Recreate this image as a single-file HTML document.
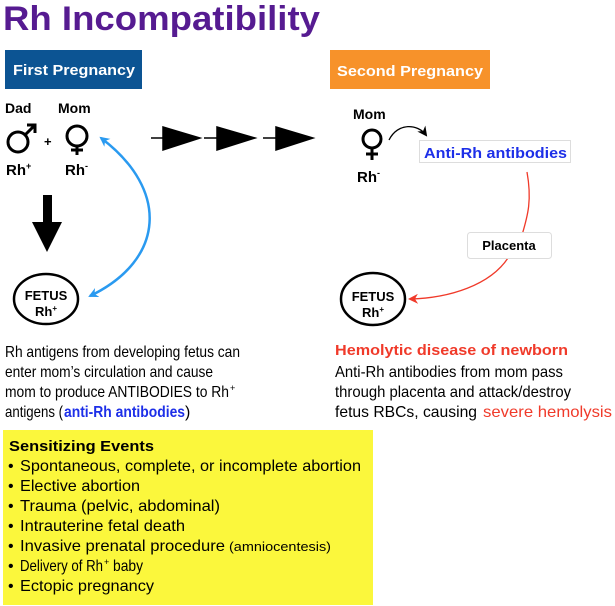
<!DOCTYPE html>
<html><head><meta charset="utf-8"><style>
html,body{margin:0;padding:0;background:#fff;}
svg{display:block;font-family:"Liberation Sans",Arial,sans-serif;}
</style></head><body>
<svg width="615" height="606" viewBox="0 0 615 606" xmlns="http://www.w3.org/2000/svg">
<defs>
<marker id="bh" markerWidth="10" markerHeight="10" refX="8" refY="5" orient="auto" markerUnits="userSpaceOnUse"><path d="M0,0 L10,5 L0,10 L3,5 Z" fill="#2a9af0"/></marker>
<marker id="bt" markerWidth="10" markerHeight="10" refX="8" refY="5" orient="auto-start-reverse" markerUnits="userSpaceOnUse"><path d="M0,0 L10,5 L0,10 L3,5 Z" fill="#2a9af0"/></marker>
<marker id="rh" markerWidth="10" markerHeight="10" refX="8" refY="5" orient="auto" markerUnits="userSpaceOnUse"><path d="M0,0 L10,5 L0,10 L3,5 Z" fill="#f03a2a"/></marker>
<marker id="kh" markerWidth="10" markerHeight="10" refX="8" refY="5" orient="auto" markerUnits="userSpaceOnUse"><path d="M0,0 L10,5 L0,10 L3,5 Z" fill="#000"/></marker>
</defs>
<text x="3" y="30" font-size="34" font-weight="bold" fill="#561b91" textLength="317" lengthAdjust="spacingAndGlyphs">Rh Incompatibility</text>
<rect x="5" y="50" width="137" height="39" fill="#0c5493"/>
<text x="13" y="75" font-size="15" font-weight="bold" fill="#fff" textLength="122" lengthAdjust="spacingAndGlyphs">First Pregnancy</text>
<rect x="330" y="50" width="160" height="39" fill="#f7922a"/>
<text x="337" y="76" font-size="15" font-weight="bold" fill="#fff" textLength="146" lengthAdjust="spacingAndGlyphs">Second Pregnancy</text>

<text x="5" y="113" font-size="14" font-weight="bold">Dad</text>
<text x="58" y="113" font-size="14" font-weight="bold">Mom</text>
<circle cx="18" cy="142" r="10" fill="none" stroke="#000" stroke-width="3"/>
<path d="M25,135 L35,125 M27,125 L35,125 L35,133" fill="none" stroke="#000" stroke-width="3"/>
<text x="44" y="146" font-size="13" font-weight="bold">+</text>
<circle cx="77" cy="136" r="10" fill="none" stroke="#000" stroke-width="3"/>
<path d="M77,146 L77,155 M71,150 L83,150" stroke="#000" stroke-width="3"/>
<text x="6" y="175" font-size="15" font-weight="bold">Rh<tspan font-size="9" dy="-6">+</tspan></text>
<text x="65" y="175" font-size="15" font-weight="bold">Rh<tspan font-size="9" dy="-6">-</tspan></text>

<g fill="#000" stroke="#000" stroke-width="1.5">
<line x1="151" y1="138" x2="165" y2="138"/><path d="M163,127 L200,138 L163,150 Z"/>
<line x1="204" y1="138" x2="218" y2="138"/><path d="M217,127 L255,138 L217,150 Z"/>
<line x1="263" y1="138" x2="277" y2="138"/><path d="M276,127 L313,138 L276,150 Z"/>
</g>
<rect x="43" y="195" width="9" height="30" fill="#000"/>
<path d="M32,222 L62,222 L47,252 Z" fill="#000"/>

<path d="M101,138 C170,190 165,260 90,296" fill="none" stroke="#2a9af0" stroke-width="2.5" marker-end="url(#bh)" marker-start="url(#bt)"/>
<ellipse cx="46" cy="299" rx="32" ry="25" fill="#fff" stroke="#000" stroke-width="2.5"/>
<text x="46" y="300" font-size="13" font-weight="bold" text-anchor="middle">FETUS</text>
<text x="46" y="316" font-size="13" font-weight="bold" text-anchor="middle">Rh<tspan font-size="8" dy="-5">+</tspan></text>

<text x="353" y="119" font-size="14" font-weight="bold">Mom</text>
<circle cx="372" cy="139" r="9" fill="none" stroke="#000" stroke-width="3"/>
<path d="M372,148 L372,160 M366,154 L378,154" stroke="#000" stroke-width="3"/>
<text x="357" y="182" font-size="15" font-weight="bold">Rh<tspan font-size="9" dy="-6">-</tspan></text>
<path d="M389,140 C398,122 418,124 426,135" fill="none" stroke="#000" stroke-width="1.3" marker-end="url(#kh)"/>
<rect x="419.5" y="140.5" width="151" height="22" fill="#fff" stroke="#ddd"/>
<text x="424" y="158" font-size="15" font-weight="bold" fill="#1d2fe8" textLength="143" lengthAdjust="spacingAndGlyphs">Anti-Rh antibodies</text>
<path d="M527,172 C532,200 528,215 522,235" fill="none" stroke="#f03a2a" stroke-width="1.3"/>
<path d="M508,258 C490,285 450,298 410,299" fill="none" stroke="#f03a2a" stroke-width="1.3" marker-end="url(#rh)"/>
<rect x="467.5" y="232.5" width="84" height="26" rx="3" fill="#fff" stroke="#ddd"/>
<text x="509" y="250" font-size="13" font-weight="bold" text-anchor="middle">Placenta</text>
<ellipse cx="373" cy="299" rx="32" ry="26" fill="#fff" stroke="#000" stroke-width="2.5"/>
<text x="373" y="301" font-size="13" font-weight="bold" text-anchor="middle">FETUS</text>
<text x="373" y="317" font-size="13" font-weight="bold" text-anchor="middle">Rh<tspan font-size="8" dy="-5">+</tspan></text>

<g font-size="16">
<text x="5" y="357" textLength="235" lengthAdjust="spacingAndGlyphs">Rh antigens from developing fetus can</text>
<text x="5" y="377" textLength="208" lengthAdjust="spacingAndGlyphs">enter mom’s circulation and cause</text>
<text x="5" y="397" textLength="224" lengthAdjust="spacingAndGlyphs">mom to produce ANTIBODIES to Rh</text>
<text x="230" y="391" font-size="9">+</text>
<text x="5" y="417" textLength="58" lengthAdjust="spacingAndGlyphs">antigens (</text>
<text x="64" y="417" font-weight="bold" fill="#1d2fe8" textLength="121" lengthAdjust="spacingAndGlyphs">anti-Rh antibodies</text>
<text x="185" y="417">)</text>
</g>
<text x="335" y="355" font-size="15" font-weight="bold" fill="#f03a2a" textLength="233" lengthAdjust="spacingAndGlyphs">Hemolytic disease of newborn</text>
<g font-size="16">
<text x="335" y="377" textLength="228" lengthAdjust="spacingAndGlyphs">Anti-Rh antibodies from mom pass</text>
<text x="335" y="397" textLength="236" lengthAdjust="spacingAndGlyphs">through placenta and attack/destroy</text>
<text x="335" y="417" textLength="142" lengthAdjust="spacingAndGlyphs">fetus RBCs, causing</text>
<text x="483" y="417" fill="#f03a2a" textLength="129" lengthAdjust="spacingAndGlyphs">severe hemolysis</text>
</g>

<rect x="3" y="430" width="370" height="175" fill="#fbf73c"/>
<text x="9" y="451" font-size="15" font-weight="bold" textLength="145" lengthAdjust="spacingAndGlyphs">Sensitizing Events</text>
<g font-size="16">
<text x="8" y="471">•</text><text x="20" y="471" textLength="341" lengthAdjust="spacingAndGlyphs">Spontaneous, complete, or incomplete abortion</text>
<text x="8" y="491">•</text><text x="20" y="491" textLength="120" lengthAdjust="spacingAndGlyphs">Elective abortion</text>
<text x="8" y="511">•</text><text x="20" y="511" textLength="200" lengthAdjust="spacingAndGlyphs">Trauma (pelvic, abdominal)</text>
<text x="8" y="531">•</text><text x="20" y="531" textLength="165" lengthAdjust="spacingAndGlyphs">Intrauterine fetal death</text>
<text x="8" y="551">•</text><text x="20" y="551" textLength="205" lengthAdjust="spacingAndGlyphs">Invasive prenatal procedure</text><text x="229" y="551" font-size="13" textLength="102" lengthAdjust="spacingAndGlyphs">(amniocentesis)</text>
<text x="8" y="571">•</text><text x="20" y="571" textLength="83" lengthAdjust="spacingAndGlyphs">Delivery of Rh</text><text x="104" y="565" font-size="9">+</text><text x="113" y="571" textLength="30" lengthAdjust="spacingAndGlyphs">baby</text>
<text x="8" y="591">•</text><text x="20" y="591" textLength="134" lengthAdjust="spacingAndGlyphs">Ectopic pregnancy</text>
</g>
</svg>
</body></html>
